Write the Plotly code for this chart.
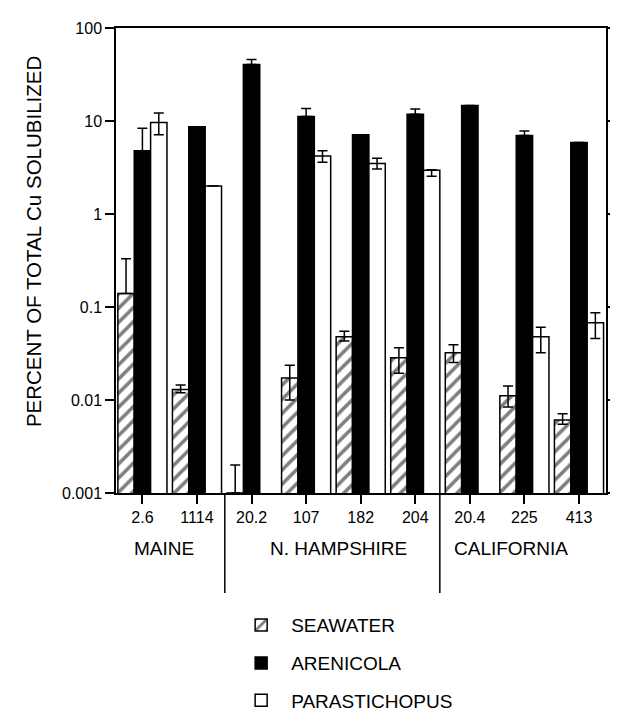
import plotly.graph_objects as go

sites = ["2.6", "1114", "20.2", "107", "182", "204", "20.4", "225", "413"]
regions = ["MAINE", "N. HAMPSHIRE", "CALIFORNIA"]
y_tick_vals = [0.001, 0.01, 0.1, 1, 10, 100]
y_tick_text = ["0.001", "0.01", "0.1", "1", "10", "100"]

seawater = [0.14, 0.013, 0.001, 0.0172, 0.048, 0.0284, 0.0323, 0.0111, 0.0061]
seawater_err_plus = [0.19, 0.0015, 0.001, 0.0064, 0.007, 0.008, 0.007, 0.003, 0.001]
seawater_err_minus = [0, 0.001, 0, 0.0072, 0.005, 0.009, 0.007, 0.0027, 0.0006]

arenicola = [4.78, 8.69, 40.6, 11.2, 7.1, 11.8, 14.7, 7.0, 5.86]
arenicola_err_plus = [3.56, 0, 5.2, 2.4, 0, 1.7, 0, 0.8, 0]
arenicola_err_minus = [0, 0, 0, 0, 0, 0, 0, 0, 0]

parastichopus = [9.64, 2.0, None, 4.2, 3.49, 2.95, None, 0.048, 0.0678]
parastichopus_err_plus = [2.56, 0, 0, 0.58, 0.49, 0.05, 0, 0.0125, 0.019]
parastichopus_err_minus = [2.54, 0, 0, 0.6, 0.44, 0.4, 0, 0.0157, 0.022]

FONT = "Liberation Sans, Arial, Helvetica, sans-serif"
BLACK = "black"

def err(plus, minus):
    return dict(type="data", symmetric=False, array=plus, arrayminus=minus,
                color=BLACK, thickness=1.5, width=5)

fig = go.Figure()
fig.add_trace(go.Bar(
    x=sites, y=seawater, name="SEAWATER", legend="legend",
    marker=dict(color="white", line=dict(color=BLACK, width=1.5),
                pattern=dict(shape="/", fgcolor=BLACK, bgcolor="white", size=10, solidity=0.35)),
    error_y=err(seawater_err_plus, seawater_err_minus)))
fig.add_trace(go.Bar(
    x=sites, y=arenicola, name="ARENICOLA", legend="legend2",
    marker=dict(color=BLACK, line=dict(color=BLACK, width=1.5)),
    error_y=err(arenicola_err_plus, arenicola_err_minus)))
fig.add_trace(go.Bar(
    x=sites, y=parastichopus, name="PARASTICHOPUS", legend="legend3",
    marker=dict(color="white", line=dict(color=BLACK, width=1.5)),
    error_y=err(parastichopus_err_plus, parastichopus_err_minus)))

leg_common = dict(font=dict(family=FONT, size=19, color=BLACK), bgcolor="rgba(0,0,0,0)",
                  xanchor="left", yanchor="middle", itemwidth=50)
fig.update_layout(
    width=618, height=721,
    margin=dict(l=108, r=9, t=20, b=226),
    paper_bgcolor="white", plot_bgcolor="white",
    barmode="group", bargap=0.1, bargroupgap=0,
    showlegend=True,
    legend=dict(x=0.235, y=-0.284, **leg_common),
    legend2=dict(x=0.235, y=-0.366, **leg_common),
    legend3=dict(x=0.235, y=-0.446, **leg_common),
    font=dict(family=FONT, color=BLACK),
)
fig.update_xaxes(type="category", categoryorder="array", categoryarray=sites,
                 range=[-0.484, 8.495], ticks="outside", ticklen=9, tickwidth=1.5,
                 tickcolor=BLACK, showline=True, linecolor=BLACK, linewidth=1.5,
                 mirror=True, showgrid=False, zeroline=False,
                 tickfont=dict(family=FONT, size=16, color=BLACK))
fig.update_yaxes(type="log", range=[-3, 2], tickvals=y_tick_vals, ticktext=y_tick_text,
                 ticks="outside", ticklen=9, tickwidth=1.5, tickcolor=BLACK,
                 showline=True, linecolor=BLACK, linewidth=1.5, mirror="ticks",
                 showgrid=False, zeroline=False,
                 tickfont=dict(family=FONT, size=16, color=BLACK))

for xs in [1.51, 5.45]:
    fig.add_shape(type="line", xref="x", yref="paper", x0=xs, x1=xs, y0=0, y1=-0.215,
                  line=dict(color=BLACK, width=1.5))

for label, xc in zip(regions, [0.39, 3.6, 6.76]):
    fig.add_annotation(text=label, x=xc, xref="x", y=-0.12, yref="paper",
                       showarrow=False, xanchor="center", yanchor="middle",
                       font=dict(family=FONT, size=19, color=BLACK))

fig.add_annotation(text="PERCENT OF TOTAL Cu SOLUBILIZED", textangle=-90,
                   x=-0.168, xref="paper", y=0.541, yref="paper",
                   showarrow=False, xanchor="center", yanchor="middle",
                   font=dict(family=FONT, size=20.5, color=BLACK))

fig.write_html("out.html")
